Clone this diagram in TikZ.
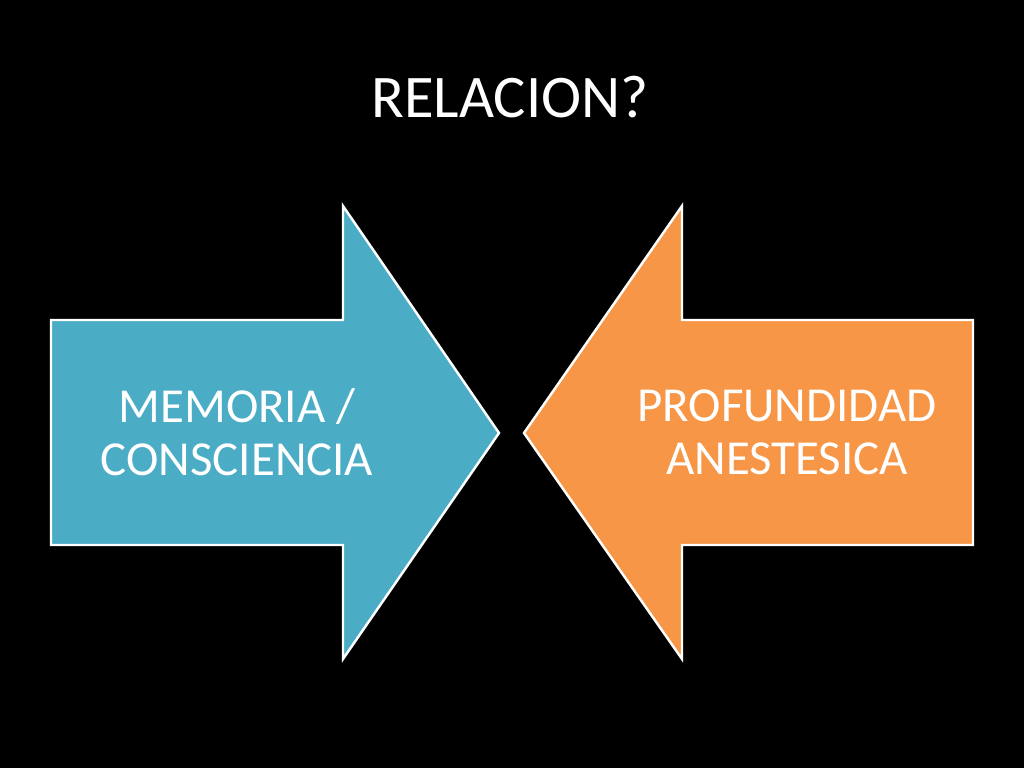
\documentclass[tikz,border=0pt]{standalone}
\usepackage{fontspec}
\setmainfont{Carlito}
\usepackage{tikz}

\definecolor{slideblue}{HTML}{4BACC6}
\definecolor{slideorange}{HTML}{F79646}

\tikzset{
	bigarrow/.style={draw=white, line width=0.7pt, line join=miter},
	arrowtext/.style={text=white, align=center, font=\fontsize{13.9}{15}\selectfont},
}

\begin{document}
\begin{tikzpicture}[x=0.01cm,y=-0.01cm]
					% Background
					\fill[black] (0,0) rectangle (1024,768);
					\useasboundingbox (0,0) rectangle (1024,768);
					% Title
					\node[text=white, font=\fontsize{17.2}{20}\selectfont] (title) at (510,97) {RELACION?};
					% Create Arrows
					\draw[bigarrow, fill=slideblue] (51,320) -- (343,320) -- (343,206) -- (499,433) -- (343,659) -- (343,545) -- (51,545) -- cycle;
					\draw[bigarrow, fill=slideorange] (973,320) -- (682,320) -- (682,206) -- (524,433) -- (682,659) -- (682,545) -- (973,545) -- cycle;
					% Add labels to the arrows
					\node[arrowtext] (memoria) at (237,432) {MEMORIA /\\CONSCIENCIA};
					\node[arrowtext] (profundidad) at (787,432) {PROFUNDIDAD\\ANESTESICA};
				\end{tikzpicture}
\end{document}
